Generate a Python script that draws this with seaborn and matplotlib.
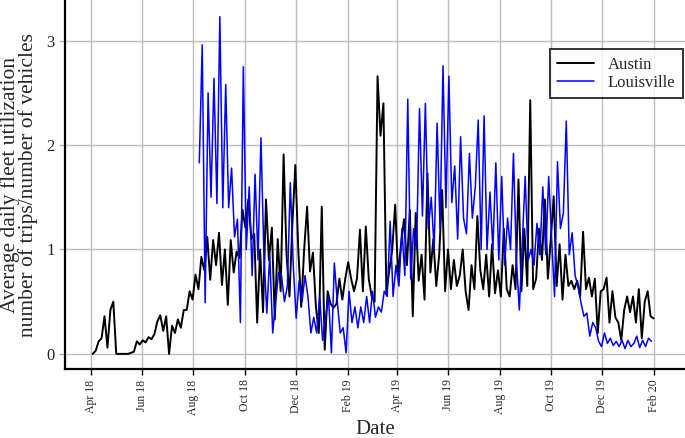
import pandas as pd
import seaborn as sns
import matplotlib.pyplot as plt
import matplotlib.dates as mdates

# half-weekly readings (every 3.5 days) of average daily fleet utilization
austin_start = "2018-04-03"
austin = [
    0.0, 0.03, 0.12, 0.15, 0.36, 0.06, 0.42, 0.50, 0.0,
    0.0, 0.0, 0.0, 0.0, 0.01, 0.02,
    0.12, 0.09, 0.13, 0.11, 0.16, 0.14, 0.19, 0.31, 0.37, 0.22, 0.36, 0.0,
    0.27, 0.2, 0.33, 0.25, 0.42, 0.42, 0.6, 0.52, 0.76, 0.62, 0.93, 0.8,
    1.12, 0.71, 1.09, 0.85, 1.16, 0.66, 1.0, 0.47, 1.09, 0.78, 0.98, 0.92,
    1.38, 1.21, 1.48, 1.1, 1.15, 0.3, 1.0, 0.4, 1.48, 0.9, 1.21, 0.33,
    1.1, 0.6, 1.91, 0.95, 0.55, 1.25, 1.81, 1.0, 0.45, 1.0, 1.41, 0.79,
    0.97, 0.45, 0.2, 1.41, 0.04, 0.6, 0.48, 0.44, 0.48, 0.72, 0.52, 0.72,
    0.88, 0.72, 0.6, 0.72, 1.19, 0.6, 1.22, 0.72, 0.55, 0.5, 2.66, 2.09,
    2.4, 0.58, 0.8, 1.0, 1.43, 0.75, 1.05, 1.29, 0.85, 1.38, 0.36, 1.35,
    0.7, 0.95, 0.52, 1.73, 0.78, 1.1, 0.65, 0.95, 1.57, 0.6, 1.0, 0.62,
    0.9, 0.65, 0.75, 1.0, 0.6, 0.42, 0.85, 0.62, 1.32, 0.8, 0.62, 0.95,
    0.55, 1.05, 0.58, 0.8, 0.55, 1.2, 0.62, 0.55, 0.85, 0.62, 1.67, 0.6,
    1.2, 0.65, 2.43, 0.62, 0.72, 1.2, 0.9, 1.48, 0.72, 1.1, 1.51, 0.65,
    1.05, 0.52, 0.95, 0.65, 0.7, 0.62, 0.7, 0.55, 1.17, 0.62, 0.73, 0.55,
    0.72, 0.2, 0.6, 0.62, 0.73, 0.3, 0.6, 0.35, 0.3, 0.13, 0.42, 0.55,
    0.4, 0.55, 0.3, 0.62, 0.15, 0.5, 0.6, 0.36, 0.34,
]

louisville_start = "2018-08-08"
louisville = [
    1.83, 2.96, 0.49, 2.5, 1.5, 2.64, 1.44, 3.23, 1.4, 2.58, 1.4, 1.78,
    1.12, 1.29, 0.3, 2.75, 1.0, 1.6, 0.75, 1.72, 0.9, 2.07, 0.95, 0.39,
    0.95, 0.2, 0.5, 0.78, 0.75, 0.5, 0.65, 1.64, 0.85, 0.34, 0.7, 0.5,
    0.75, 0.55, 0.2, 0.35, 0.2, 0.55, 0.13, 0.35, 0.55, 0.01, 0.87, 0.5,
    0.2, 0.25, 0.01, 0.6, 0.3, 0.45, 0.25, 0.45, 0.3, 0.55, 0.3, 0.6,
    0.35, 0.45, 0.4, 0.6, 0.55, 1.27, 0.55, 0.85, 0.65, 1.2, 0.75, 2.44,
    0.72, 1.2, 1.0, 2.35, 1.32, 2.4, 1.2, 1.5, 1.0, 2.21, 1.2, 2.76,
    1.4, 2.66, 1.45, 1.8, 1.1, 2.08, 1.3, 1.15, 1.92, 1.3, 1.6, 2.24,
    1.0, 2.28, 1.0, 1.55, 1.0, 1.83, 0.9, 1.7, 0.85, 1.3, 1.0, 1.92,
    0.9, 0.42, 1.05, 1.7, 0.9, 1.0, 0.85, 1.25, 0.95, 1.6, 0.95, 1.7,
    1.1, 0.55, 1.84, 1.2, 1.35, 2.23, 0.95, 1.16, 0.75, 0.65, 0.49, 0.36,
    0.39, 0.17, 0.3, 0.25, 0.12, 0.07, 0.2, 0.1, 0.15, 0.08, 0.12, 0.07,
    0.13, 0.05, 0.13, 0.07, 0.1, 0.17, 0.06, 0.13, 0.07, 0.15, 0.12,
]

cities = ["Austin", "Louisville"]
colors = {"Austin": "black", "Louisville": "blue"}
widths = {"Austin": 1.4, "Louisville": 1.1}


def make_frame(city, start, values):
    dates = pd.date_range(start, periods=len(values), freq="84h")
    return pd.DataFrame({"date": dates, "util": values, "city": city})


df = pd.concat([make_frame("Austin", austin_start, austin),
                make_frame("Louisville", louisville_start, louisville)],
               ignore_index=True)

sns.set_theme(style="ticks")
plt.rcParams['font.family'] = ['Liberation Serif', 'DejaVu Serif']

fig, ax = plt.subplots(figsize=(6.85, 4.38), dpi=100)
fig.subplots_adjust(left=0.095, right=1.0, top=1.0, bottom=0.1575)

for city in cities:
    sns.lineplot(data=df[df["city"] == city], x="date", y="util",
                 color=colors[city], linewidth=widths[city], label=city, ax=ax)

ax.set_ylim(-0.145, 3.39)
ax.set_xlim(pd.Timestamp("2018-03-01"), pd.Timestamp("2020-03-09"))
ax.set_yticks([0, 1, 2, 3])
ax.xaxis.set_major_locator(mdates.MonthLocator(bymonth=[2, 4, 6, 8, 10, 12]))
ax.xaxis.set_major_formatter(mdates.DateFormatter("%b %y"))
ax.tick_params(axis="x", labelrotation=90, labelsize=8.5, length=4, width=1, color="black")
ax.tick_params(axis="y", labelsize=12, length=4, width=1, color="#b0b0b0")

ax.grid(True, color="#bdbdbd", linewidth=1)
ax.set_axisbelow(True)
for side in ["top", "right"]:
    ax.spines[side].set_visible(False)
for side in ["left", "bottom"]:
    ax.spines[side].set_linewidth(1.6)
    ax.spines[side].set_color("black")

ax.set_ylabel("Average daily fleet utilization\nnumber of trips/number of vehicles",
              fontsize=15.5, linespacing=0.85, labelpad=6)
ax.set_xlabel("Date", fontsize=15)

leg = ax.legend(loc="upper right", bbox_to_anchor=(0.997, 0.866), fontsize=12,
                frameon=True, fancybox=False, handlelength=2.2, borderpad=0.45,
                labelspacing=0.1, handletextpad=0.85, borderaxespad=0)
leg.get_frame().set_edgecolor("black")
leg.get_frame().set_linewidth(1.4)

plt.savefig("out.png", dpi=100)
